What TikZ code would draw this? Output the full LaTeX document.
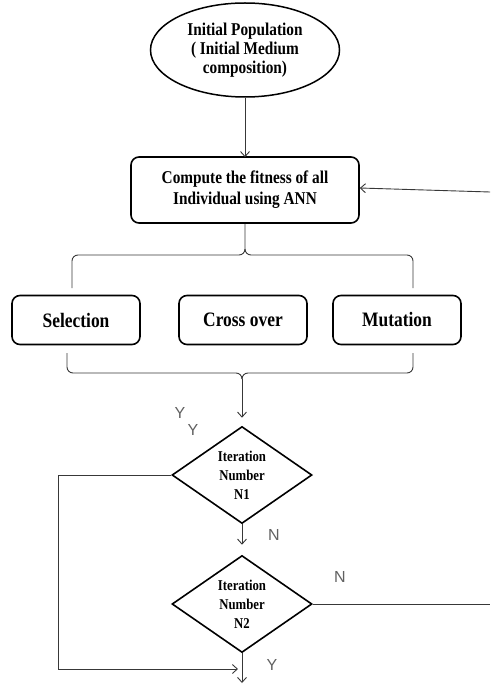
\documentclass[tikz,border=0pt]{standalone}
\usepackage{fontspec}
\setmainfont{Liberation Serif}
\newfontfamily\boxfont{Liberation Serif}[FakeStretch=0.85]
\newfontfamily\labelfont{Liberation Sans}
\usetikzlibrary{shapes.geometric,arrows.meta}

\begin{document}
\begin{tikzpicture}[x=1pt,y=-1pt,
  link/.style={draw=black!78, line width=0.9pt},
  tip/.style={-{Straight Barb[length=5pt,width=9pt,line width=0.9pt]}},
  startnode/.style={draw, ellipse, line width=1.5pt, minimum width=189pt, minimum height=94pt,
    inner sep=0pt, align=center, font=\boxfont\fontsize{18}{19}\selectfont\bfseries},
  mainbox/.style={draw, line width=1.6pt, rounded corners=8pt, minimum width=228pt,
    minimum height=66pt, align=center, font=\boxfont\fontsize{18}{21}\selectfont\bfseries},
  opbox/.style={draw, line width=1.6pt, rounded corners=8pt, minimum width=128pt,
    minimum height=49pt, font=\boxfont\fontsize{20.5}{20}\selectfont\bfseries},
  decision/.style={draw, diamond, aspect=1.44, line width=1.6pt, minimum width=140pt,
    minimum height=97pt, inner sep=0pt, align=center, font=\boxfont\fontsize{15}{19}\selectfont\bfseries},
  flag/.style={text=black!62, font=\labelfont\fontsize{16}{16}\selectfont, inner sep=0pt}
]
\useasboundingbox (0,0) rectangle (490,684);

% nodes
\node[startnode] (init) at (245,50) {Initial Population\\( Initial Medium\\composition)};
\node[mainbox] (comp) at (245,190) {Compute the fitness of all\\Individual using ANN};
\node[opbox] (sel) at (76,320) {Selection};
\node[opbox] (cross) at (243,320) {Cross over};
\node[opbox] (mut) at (397,320) {Mutation};
\node[decision] (d1) at (242,475) {Iteration\\Number\\N1};
\node[decision] (d2) at (242,604) {Iteration\\Number\\N2};

% labels
\node[flag] (y1) at (180,413) {Y};
\node[flag] (y2) at (193,430) {Y};
\node[flag] (n1) at (274,535) {N};
\node[flag] (n2) at (340,577) {N};
\node[flag] (y3) at (272,665) {Y};

% brace coordinates
\coordinate (ttip) at (245,249);
\coordinate (tl) at (72,288);
\coordinate (tr) at (413,288);
\coordinate (bl) at (67,353);
\coordinate (br) at (413,353);
\coordinate (btip) at (242,379);
\coordinate (feedin) at (490,192);
\coordinate (feedout) at (490,604);
\coordinate (loopin) at (238,669);
\coordinate (exit) at (242,683);

% connectors
\draw[link,tip] (init.south) -- ([yshift=-1pt]comp.north);
\draw[link,tip] (feedin) -- ([yshift=2pt]comp.east);

% upper brace
\draw[link] (comp.south) -- (ttip) to[out=-90,in=0] (239,255) -- (78,255)
  to[out=180,in=90] (72,261) -- (tl);
\draw[link] (ttip) to[out=-90,in=180] (251,255) -- (407,255)
  to[out=0,in=90] (413,261) -- (tr);

% lower brace
\draw[link] (bl) -- (67,367) to[out=-90,in=180] (73,373) -- (236,373)
  to[out=0,in=90] (btip);
\draw[link] (br) -- (413,367) to[out=-90,in=0] (407,373) -- (248,373)
  to[out=180,in=90] (btip);
\draw[link,tip,shorten >=8pt] (btip) -- (d1.north);

\draw[link,tip,shorten >=10pt] (d1.south) -- (d2.north);
\draw[link] (d2.east) -- (feedout);
\draw[link] (d1.west) -| (58,669);
\draw[link,tip] (d2.south) -- (exit);
\draw[link,tip] (58,669) -- (loopin);
\end{tikzpicture}
\end{document}
